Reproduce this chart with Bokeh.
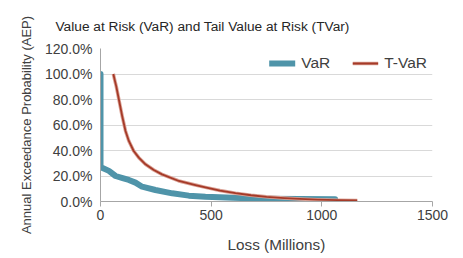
from bokeh.plotting import figure
from bokeh.models import (Range1d, FixedTicker, PrintfTickFormatter, Legend, LegendItem, Title,
                          LinearAxis, CustomJSTickFormatter)
from bokeh.embed import file_html
from bokeh.resources import INLINE

var_loss = [0, 0, 7, 38, 68, 100, 128, 158, 188, 248, 324, 399, 474, 600, 750, 900, 1060]
var_aep = [100, 27.5, 26.5, 24, 20, 18.3, 16.9, 14.8, 11.6, 9.0, 6.4, 4.6, 3.7, 2.9, 2.2, 1.9, 1.7]

tvar_loss = [58, 64, 71, 83, 98, 113, 128, 150, 173, 203, 241, 278, 354, 429, 474, 540, 610, 680, 750, 830, 900, 980, 1070, 1160]
tvar_aep = [100, 95.4, 90.5, 80, 67, 55.3, 47.5, 39.6, 34.4, 29.2, 24.7, 21.3, 16.1, 12.9, 11.1, 8.6, 6.5, 4.9, 3.7, 2.7, 2.0, 1.45, 1.05, 0.8]

x_ticks = [0, 500, 1000, 1500]
y_ticks = [0, 20, 40, 60, 80, 100, 120]

FONT = "Liberation Sans"
TXT = "#404040"

p = figure(frame_width=332, frame_height=153, output_backend="svg", toolbar_location=None,
           x_range=Range1d(0, 1500), y_range=Range1d(0, 120),
           min_border_left=100, min_border_right=25, min_border_top=48, min_border_bottom=50)

p.title.text = "Value at Risk (VaR) and Tail Value at Risk (TVar)"
p.title.text_font = FONT
p.title.text_font_size = "13.7px"
p.title.text_font_style = "normal"
p.title.text_color = "#262626"
p.title.align = "left"
p.title.offset = -45
p.title.standoff = 29

p.outline_line_color = None
p.xgrid.grid_line_color = None
p.ygrid.grid_line_color = "#d9d9d9"
p.ygrid.ticker = FixedTicker(ticks=y_ticks)

p.xaxis.ticker = FixedTicker(ticks=x_ticks)
p.yaxis.ticker = FixedTicker(ticks=y_ticks)
p.yaxis.formatter = PrintfTickFormatter(format="%.1f%%")

for ax in (p.xaxis[0], p.yaxis[0]):
    ax.axis_line_color = "#a6a6a6"
    ax.major_tick_line_color = "#a6a6a6"
    ax.minor_tick_line_color = None
    ax.major_label_text_font = FONT
    ax.major_label_text_font_size = "14px"
    ax.major_label_text_color = TXT
    ax.axis_label_text_font = FONT
    ax.axis_label_text_font_style = "normal"
    ax.axis_label_text_color = TXT

p.xaxis.major_tick_in = 0
p.xaxis.major_tick_out = 5
p.xaxis.major_label_standoff = 3

p.yaxis.major_tick_in = 0
p.yaxis.major_tick_out = 0
p.yaxis.major_label_standoff = 8
p.yaxis.axis_label = "Annual Exceedance Probability (AEP)"
p.yaxis.axis_label_text_font_size = "13px"
p.yaxis.axis_label_standoff = 8

# blank spacer axis (white tick, empty label) below the x axis to push the axis title down
spacer = LinearAxis(ticker=FixedTicker(ticks=[750]), axis_line_color=None,
                    major_tick_line_color="#ffffff", minor_tick_line_color=None,
                    major_tick_in=0, major_tick_out=11, major_label_standoff=0,
                    formatter=CustomJSTickFormatter(code="return ''"))
p.add_layout(spacer, "below")

xtitle = Title(text="Loss (Millions)", align="left", offset=127, standoff=1,
               vertical_align="bottom",
               text_font=FONT, text_font_size="15.3px", text_font_style="normal", text_color=TXT)
p.add_layout(xtitle, "below")

r_var = p.line(var_loss, var_aep, line_color="#4f94a9", line_width=6, line_cap="round", line_join="round")
r_tv_halo = p.line(tvar_loss, tvar_aep, line_color="#dba397", line_width=3.5, line_join="round")
r_tv = p.line(tvar_loss, tvar_aep, line_color="#a53a28", line_width=1.8, line_join="round")

legend = Legend(items=[LegendItem(label="VaR", renderers=[r_var]),
                       LegendItem(label="T-VaR", renderers=[r_tv_halo, r_tv])],
                orientation="horizontal", location="top_right",
                background_fill_alpha=0, border_line_color=None,
                label_text_font=FONT, label_text_font_size="15.5px", label_text_color=TXT,
                glyph_width=26, spacing=22, margin=5, padding=4, label_standoff=6)
p.add_layout(legend)

open("out.html", "w").write(file_html(p, INLINE))
